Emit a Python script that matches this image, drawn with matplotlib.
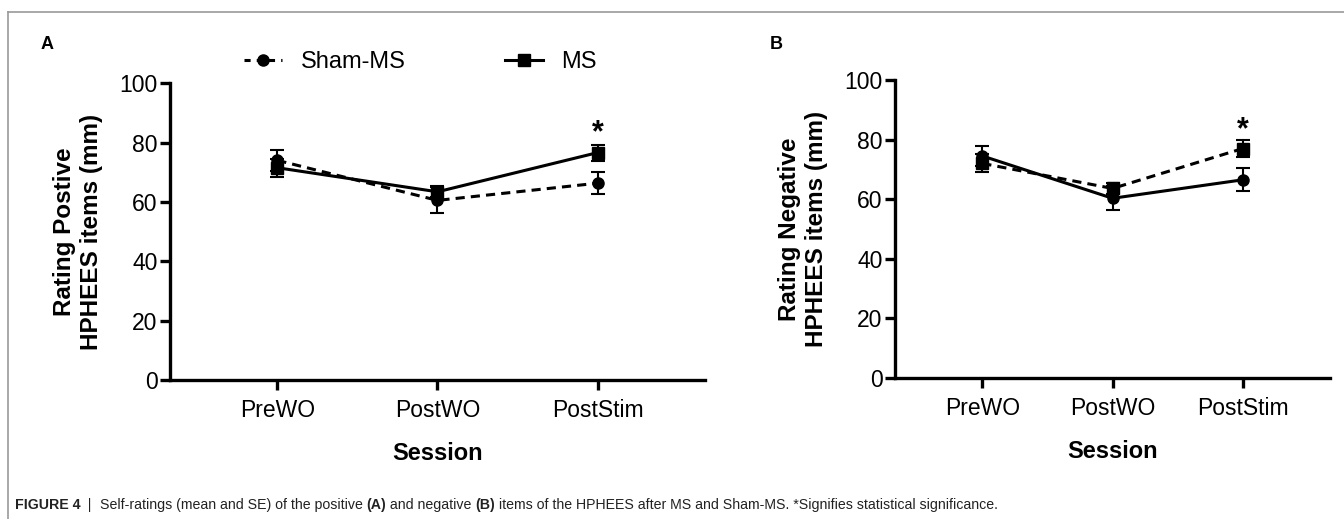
import matplotlib
matplotlib.use('Agg')
import matplotlib.pyplot as plt
from matplotlib.lines import Line2D

plt.rcParams['font.family'] = ['Liberation Sans', 'DejaVu Sans']

sessions = ['PreWO', 'PostWO', 'PostStim']

# panel A (positive items)
sham_a = [74.0, 60.5, 66.3]
sham_a_se = [3.5, 4.4, 3.8]
ms_a = [71.5, 63.4, 76.6]
ms_a_se = [3.0, 1.8, 2.7]

# panel B (negative items)
circ_b = [74.5, 60.3, 66.5]
circ_b_se = [3.5, 4.0, 3.8]
sq_b = [72.0, 63.6, 77.0]
sq_b_se = [3.0, 1.8, 2.8]

star_y = 83

caption = [('FIGURE 4', 'bold'), ('  |  ', 'normal'),
           ('Self-ratings (mean and SE) of the positive ', 'normal'), ('(A)', 'bold'),
           (' and negative ', 'normal'), ('(B)', 'bold'),
           (' items of the HPHEES after MS and Sham-MS. *Signifies statistical significance.', 'normal')]

fig = plt.figure(figsize=(13.44, 5.19), dpi=100)
axA = fig.add_axes([0.1265, 0.2678, 0.398, 0.572])
axB = fig.add_axes([0.666, 0.2717, 0.3236, 0.5742])

x = range(len(sessions))


def series(ax, y, se, marker, ls):
    ax.errorbar(x, y, yerr=se, color='black', lw=2.2, ls=ls, marker=marker, ms=8,
                capsize=5, capthick=1.5, elinewidth=1.5, dashes=(3, 2) if ls == '--' else (None, None),
                clip_on=False, zorder=3)


series(axA, sham_a, sham_a_se, 'o', '--')
series(axA, ms_a, ms_a_se, 's', '-')
series(axB, circ_b, circ_b_se, 'o', '-')
series(axB, sq_b, sq_b_se, 's', '--')

for ax, ylab in [(axA, 'Rating Postive\nHPHEES items (mm)'),
                 (axB, 'Rating Negative\nHPHEES items (mm)')]:
    ax.set_xlim(-0.67, 2.67)
    ax.set_ylim(0, 100)
    ax.set_yticks([0, 20, 40, 60, 80, 100])
    ax.set_xticks(list(x))
    ax.set_xticklabels(sessions)
    for s in ['top', 'right']:
        ax.spines[s].set_visible(False)
    for s in ['left', 'bottom']:
        ax.spines[s].set_linewidth(2.4)
    ax.tick_params(width=2.4, length=7, labelsize=16.5, pad=2)
    ax.tick_params(axis='x', pad=7)
    ax.set_xlabel('Session', fontsize=17, fontweight='bold', labelpad=14)
    ax.set_ylabel(ylab, fontsize=17.5, fontweight='bold', labelpad=12, linespacing=1.2)
    ax.text(2, star_y, '*', ha='center', va='center', fontsize=22, fontweight='bold')

# legend
h_sham = Line2D([], [], color='black', ls='--', dashes=(2, 2), lw=2.2, marker='o', ms=8)
h_ms = Line2D([], [], color='black', ls='-', lw=2.2, marker='s', ms=8)
fig.legend([h_sham, h_ms], ['Sham-MS', 'MS'], loc='center', bbox_to_anchor=(0.313, 0.88),
           ncol=2, frameon=False, handlelength=1.6, handletextpad=0.8, columnspacing=4.2,
           prop={'size': 17})

fig.text(0.03, 0.915, 'A', fontsize=13, fontweight='bold', ha='left', va='center')
fig.text(0.573, 0.915, 'B', fontsize=13, fontweight='bold', ha='left', va='center')

# frame lines
fig.add_artist(Line2D([0.006, 1.0], [0.977, 0.977], color='#9a9a9a', lw=1.2, transform=fig.transFigure))
fig.add_artist(Line2D([0.006, 0.006], [0.0, 0.977], color='#9a9a9a', lw=1.2, transform=fig.transFigure))

# caption, drawn piece by piece
cap_y = 1 - 505 / 519
renderer = fig.canvas.get_renderer()
cx = 0.011
for txt, wt in caption:
    t = fig.text(cx, cap_y, txt, fontsize=10.2, fontweight=wt, ha='left', va='center', color='#222222')
    bb = t.get_window_extent(renderer=renderer)
    cx += bb.width / fig.bbox.width

fig.savefig('out.png', dpi=100)
